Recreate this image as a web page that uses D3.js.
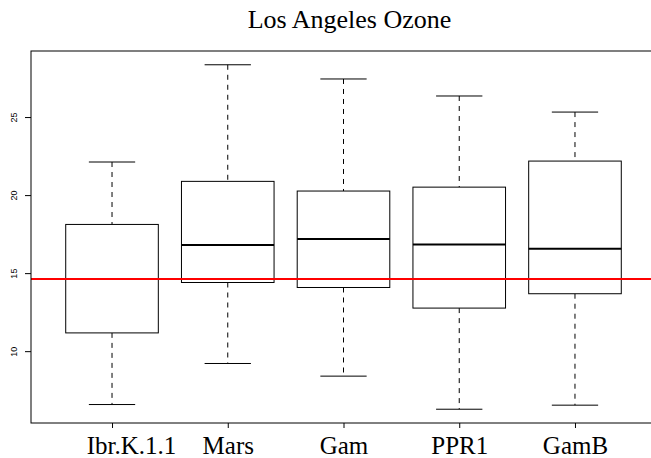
<!DOCTYPE html>
<html>
<head>
<meta charset="utf-8">
<script src="https://cdn.jsdelivr.net/npm/d3@7"></script>
<style>
  body { margin: 0; background: #fff; }
  svg { display: block; }
</style>
</head>
<body>
<div id="chart"></div>
<script>
// Dados do boxplot
const categories = ["Ibr.K.1.1", "Mars", "Gam", "PPR1", "GamB"];
const whiskerLow = [6.58, 9.21, 8.40, 6.28, 6.54];
const boxLow     = [11.17, 14.40, 14.08, 12.76, 13.68];
const medians    = [14.62, 16.81, 17.18, 16.83, 16.57];
const boxHigh    = [18.12, 20.88, 20.26, 20.51, 22.18];
const whiskerHigh = [22.12, 28.35, 27.44, 26.35, 25.32];
const refLine = 14.62;
const yTicks = [10, 15, 20, 25];

const width = 651, height = 458;
const mLeft = 31, mRight = 656, mTop = 51, mBottom = 423;

const svg = d3.select("#chart").append("svg")
    .attr("width", width)
    .attr("height", height);

// Escalas (estilo R: 4% de margem em cada lado)
const x = d3.scaleLinear()
    .domain([0.3, categories.length + 0.7])
    .range([mLeft, mRight]);

const lo = d3.min(whiskerLow), hi = d3.max(whiskerHigh);
const pad = (hi - lo) * 0.04;
const y = d3.scaleLinear()
    .domain([lo - pad, hi + pad])
    .range([mBottom, mTop]);

const data = categories.map((c, i) => ({
    name: c, pos: i + 1,
    wl: whiskerLow[i], q1: boxLow[i], med: medians[i], q3: boxHigh[i], wh: whiskerHigh[i]
}));

const boxW = (x(1) - x(0)) * 0.8;
const capW = boxW / 2;

const g = svg.append("g").attr("stroke", "#000").attr("fill", "none");

const box = g.selectAll("g.box")
    .data(data)
    .join("g")
    .attr("class", "box");

// bigodes tracejados
box.append("line")
    .attr("x1", d => x(d.pos)).attr("x2", d => x(d.pos))
    .attr("y1", d => y(d.wh)).attr("y2", d => y(d.q3))
    .attr("stroke-dasharray", "5,5");
box.append("line")
    .attr("x1", d => x(d.pos)).attr("x2", d => x(d.pos))
    .attr("y1", d => y(d.q1)).attr("y2", d => y(d.wl))
    .attr("stroke-dasharray", "5,5");

// caps
box.append("line")
    .attr("x1", d => x(d.pos) - capW / 2).attr("x2", d => x(d.pos) + capW / 2)
    .attr("y1", d => y(d.wh)).attr("y2", d => y(d.wh));
box.append("line")
    .attr("x1", d => x(d.pos) - capW / 2).attr("x2", d => x(d.pos) + capW / 2)
    .attr("y1", d => y(d.wl)).attr("y2", d => y(d.wl));

// caixa
box.append("rect")
    .attr("x", d => x(d.pos) - boxW / 2)
    .attr("width", boxW)
    .attr("y", d => y(d.q3))
    .attr("height", d => y(d.q1) - y(d.q3))
    .attr("fill", "#fff");

// mediana
box.append("line")
    .attr("x1", d => x(d.pos) - boxW / 2).attr("x2", d => x(d.pos) + boxW / 2)
    .attr("y1", d => y(d.med)).attr("y2", d => y(d.med))
    .attr("stroke-width", 2);

// linha de referência vermelha
svg.append("line")
    .attr("x1", mLeft).attr("x2", mRight)
    .attr("y1", y(refLine)).attr("y2", y(refLine))
    .attr("stroke", "#ff0000")
    .attr("stroke-width", 2);

// moldura
svg.append("rect")
    .attr("x", mLeft).attr("y", mTop)
    .attr("width", mRight - mLeft).attr("height", mBottom - mTop)
    .attr("fill", "none").attr("stroke", "#000");

// eixo y
const yAxis = svg.append("g")
    .attr("transform", `translate(${mLeft},0)`)
    .call(d3.axisLeft(y).tickValues(yTicks).tickSize(6).tickFormat(d3.format("d")));
yAxis.select(".domain").remove();
yAxis.selectAll(".tick text")
    .attr("x", 0).attr("y", 0).attr("dy", null)
    .attr("transform", "translate(-14,0) rotate(-90)")
    .attr("text-anchor", "middle")
    .style("font-family", "'Liberation Sans', Arial, sans-serif")
    .style("font-size", "9px");

// eixo x
const xAxis = svg.append("g")
    .attr("transform", `translate(0,${mBottom})`)
    .call(d3.axisBottom(x).tickValues(data.map(d => d.pos)).tickSize(5)
        .tickFormat((d, i) => categories[i]));
xAxis.select(".domain").remove();
xAxis.selectAll("text")
    .attr("y", 31)
    .attr("dy", null)
    .attr("dx", (d, i) => i === 0 ? 19 : 0)
    .style("font-family", "'Liberation Serif', 'Times New Roman', serif")
    .style("font-size", "25px");

// título
svg.append("text")
    .attr("x", (mLeft + mRight) / 2 + 6)
    .attr("y", 28)
    .attr("text-anchor", "middle")
    .style("font-family", "'Liberation Serif', 'Times New Roman', serif")
    .style("font-size", "26px")
    .text("Los Angeles Ozone");
</script>
</body>
</html>
